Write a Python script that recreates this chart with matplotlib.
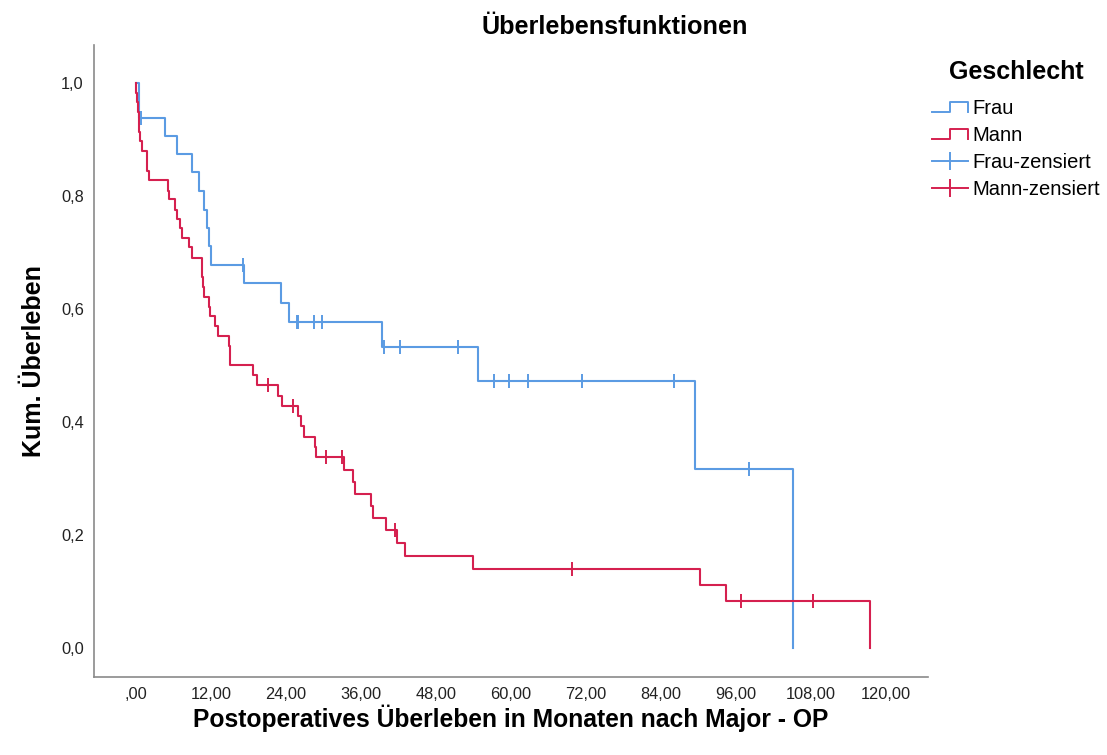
import numpy as np
import matplotlib.pyplot as plt
from matplotlib.lines import Line2D
from matplotlib.legend_handler import HandlerBase
from matplotlib.ticker import FuncFormatter

plt.rcParams['font.family'] = ['Liberation Sans', 'DejaVu Sans']

# Kaplan-Meier Stufen: Zeitpunkt (Monate) und Überlebensanteil danach
frau_t = [0.4, 0.5, 4.6, 6.6, 9.0, 10.0, 10.8, 11.3, 11.7, 12.0, 17.3,
          23.2, 24.5, 39.4, 54.8, 89.5, 105.1]
frau_s = [0.970, 0.939, 0.906, 0.874, 0.842, 0.809, 0.776, 0.743, 0.711,
          0.678, 0.646, 0.611, 0.577, 0.533, 0.473, 0.316, 0.0]
frau_zens = [0.8, 17.2, 25.7, 26.0, 28.5, 29.8, 39.7, 42.2, 51.5, 57.3,
             59.7, 62.8, 71.3, 86.1, 98.1]

mann_t = [0.0, 0.2, 0.37, 0.53, 0.64, 1.0, 1.7, 2.1, 5.1, 5.3, 6.2, 6.6,
          7.0, 7.3, 8.5, 9.0, 10.5, 10.7, 10.9, 11.6, 11.8, 12.7, 13.1,
          14.8, 15.1, 18.8, 19.3, 22.8, 23.3, 26.0, 26.4, 26.9, 28.6, 28.8,
          33.3, 34.7, 35.0, 37.6, 37.9, 40.0, 41.7, 43.0, 54.0, 90.2, 94.4,
          117.5]
mann_s = [0.983, 0.966, 0.948, 0.914, 0.897, 0.880, 0.845, 0.829, 0.809,
          0.795, 0.776, 0.760, 0.743, 0.726, 0.709, 0.691, 0.656, 0.638,
          0.621, 0.604, 0.587, 0.569, 0.552, 0.534, 0.500, 0.483, 0.465,
          0.446, 0.428, 0.410, 0.393, 0.373, 0.356, 0.337, 0.315, 0.293,
          0.272, 0.251, 0.230, 0.208, 0.186, 0.162, 0.140, 0.111, 0.083,
          0.0]
mann_zens = [21.2, 25.2, 30.4, 33.0, 41.5, 69.7, 96.8, 108.4]

x_ticks = np.arange(0, 121, 12)
y_ticks = [0.0, 0.2, 0.4, 0.6, 0.8, 1.0]

blau = '#5b9be3'
rot = '#d5204f'


def km_kurve(t, s):
    return np.r_[0.0, t], np.r_[1.0, s]


def zens_hoehe(t, s, zt):
    idx = np.searchsorted(t, zt, side='right') - 1
    s = np.asarray(s)
    return np.where(idx >= 0, s[np.clip(idx, 0, None)], 1.0)


class StufenHandler(HandlerBase):
    # kleines Treppensymbol für die Legende
    def create_artists(self, legend, orig_handle, xdescent, ydescent,
                       width, height, fontsize, trans):
        lo = -ydescent + height * 0.15
        hi = -ydescent + height * 0.85
        x0 = -xdescent
        xs = [x0, x0 + width * 0.5, x0 + width * 0.5, x0 + width, x0 + width]
        ys = [lo, lo, hi, hi, lo]
        ln = Line2D(xs, ys, color=orig_handle.get_color(), lw=1.4)
        ln.set_transform(trans)
        return [ln]


fig = plt.figure(figsize=(11.07, 7.55), dpi=100)
ax = fig.add_axes([0.0845, 0.1033, 0.7535, 0.8367])

fx, fy = km_kurve(frau_t, frau_s)
mx, my = km_kurve(mann_t, mann_s)
l_frau, = ax.step(fx, fy, where='post', color=blau, lw=1.5)
l_mann, = ax.step(mx, my, where='post', color=rot, lw=1.5)
c_frau, = ax.plot(frau_zens, zens_hoehe(fx, fy, frau_zens), ls='none',
                  marker='|', ms=10, mew=1.4, color=blau)
c_mann, = ax.plot(mann_zens, zens_hoehe(mx, my, mann_zens), ls='none',
                  marker='|', ms=10, mew=1.4, color=rot)

ax.set_xlim(-6.8, 126.7)
ax.set_ylim(-0.052, 1.067)
ax.set_xticks(x_ticks)
ax.set_yticks(y_ticks)
ax.xaxis.set_major_formatter(FuncFormatter(
    lambda v, p: (',00' if v == 0 else f'{v:.2f}'.replace('.', ','))))
ax.yaxis.set_major_formatter(FuncFormatter(
    lambda v, p: f'{v:.1f}'.replace('.', ',')))
ax.tick_params(length=0, labelsize=11.8, colors='#222222')
ax.tick_params(axis='x', pad=7)
ax.tick_params(axis='y', pad=7)
for side in ['top', 'right']:
    ax.spines[side].set_visible(False)
for side in ['left', 'bottom']:
    ax.spines[side].set_color('#8a8a8a')
    ax.spines[side].set_linewidth(1.2)

ax.set_xlabel('Postoperatives Überleben in Monaten nach Major - OP',
              fontsize=17.7, fontweight='bold', labelpad=2)
ax.set_ylabel('Kum. Überleben', fontsize=18, fontweight='bold', labelpad=11)
fig.text(0.5556, 0.964, 'Überlebensfunktionen', ha='center', va='center',
         fontsize=18.2, fontweight='bold')

leg_frau_z = Line2D([], [], color=blau, lw=1.4, marker='|', ms=13, mew=1.4)
leg_mann_z = Line2D([], [], color=rot, lw=1.4, marker='|', ms=13, mew=1.4)
leg = fig.legend([l_frau, l_mann, leg_frau_z, leg_mann_z],
                 ['Frau', 'Mann', 'Frau-zensiert', 'Mann-zensiert'],
                 handler_map={l_frau: StufenHandler(), l_mann: StufenHandler()},
                 loc='upper left', bbox_to_anchor=(0.842, 0.921),
                 frameon=False, borderpad=0, borderaxespad=0,
                 fontsize=14.5, handlelength=1.8, handletextpad=0.2,
                 labelspacing=0.4, title='Geschlecht')
leg.get_title().set_fontsize(18)
leg.get_title().set_fontweight('bold')
leg._legend_box.sep = 11

fig.savefig('out.png', dpi=100)
